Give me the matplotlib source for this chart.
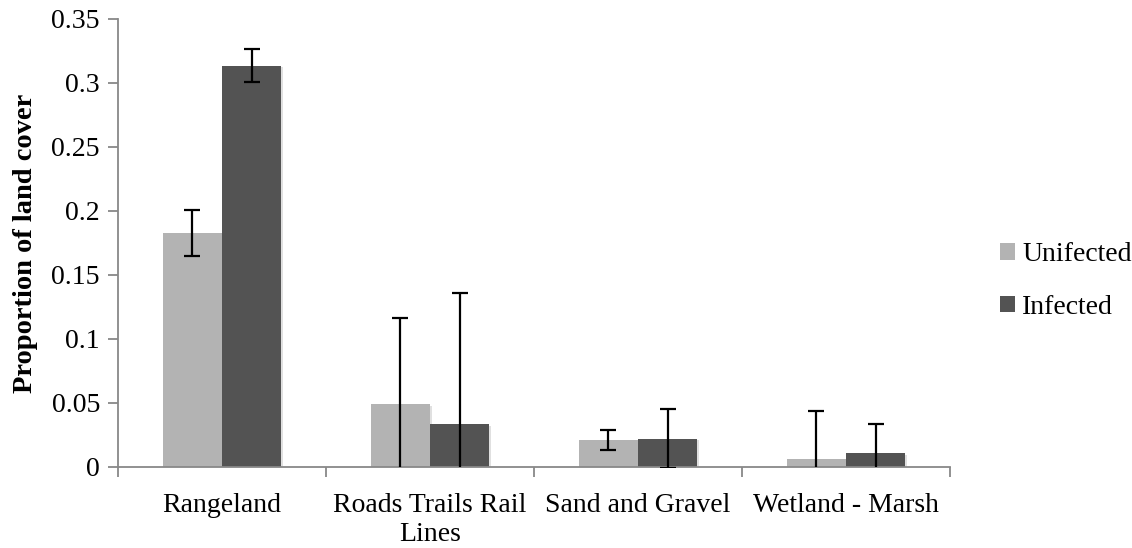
import numpy as np
import matplotlib
matplotlib.use("Agg")
import matplotlib.pyplot as plt
from matplotlib.patches import Patch
import matplotlib.patheffects as pe

categories = ["Rangeland", "Roads Trails Rail\nLines", "Sand and Gravel", "Wetland - Marsh"]
series_names = ["Unifected", "Infected"]
unifected = [0.1826, 0.0490, 0.0211, 0.0065]
unifected_err = [0.0178, 0.0672, 0.0081, 0.0370]
infected = [0.3135, 0.0334, 0.0221, 0.0107]
infected_err = [0.0129, 0.1023, 0.0230, 0.0231]
yticks = [0, 0.05, 0.1, 0.15, 0.2, 0.25, 0.3, 0.35]
ytick_labels = ["0", "0.05", "0.1", "0.15", "0.2", "0.25", "0.3", "0.35"]

plt.rcParams['font.family'] = ['Liberation Serif', 'DejaVu Serif']

fig = plt.figure(figsize=(11.32, 5.48), dpi=100)
ax = fig.add_axes([118/1132, 1 - 467/548, (950-118)/1132, (467-19)/548])

colors = ["#b3b3b3", "#535353"]
n = len(categories)
x = np.arange(n)
w = 1 / 3.5
shadow = [pe.SimplePatchShadow(offset=(1.2, -1.2), shadow_rgbFace="#999999", alpha=0.3), pe.Normal()]
for i, (vals, errs) in enumerate([(unifected, unifected_err), (infected, infected_err)]):
    pos = x + (i - 0.5) * w
    bars = ax.bar(pos, vals, width=w, color=colors[i], label=series_names[i], zorder=2)
    for b in bars:
        b.set_path_effects(shadow)
    ax.errorbar(pos, vals, yerr=errs, fmt="none", ecolor="black", elinewidth=1.6,
                capsize=6, capthick=1.6, zorder=3)

ax.set_xlim(-0.5, n - 0.5)
ax.set_ylim(0, 0.35)
ax.set_yticks(yticks)
ax.set_yticklabels(ytick_labels, fontsize=20)
ax.set_xticks(np.arange(n + 1) - 0.5)
ax.set_xticklabels([])
ax.set_xticks(x, minor=True)
ax.set_xticklabels(categories, minor=True, fontsize=20, linespacing=1.2)
ax.tick_params(axis="x", which="minor", length=0, pad=19)
ax.tick_params(axis="x", which="major", length=7, color="#888888", width=1.3)
ax.tick_params(axis="y", length=7, color="#888888", width=1.3, pad=6)
for s in ["top", "right"]:
    ax.spines[s].set_visible(False)
for s in ["left", "bottom"]:
    ax.spines[s].set_color("#888888")
    ax.spines[s].set_linewidth(1.3)

ax.set_ylabel("Proportion of land cover", fontsize=20.5, fontweight="bold", labelpad=10)

handles = [Patch(facecolor=c) for c in colors]
fig.legend(handles, series_names, loc="center left", bbox_to_anchor=(1000/1132, 1 - 281/548),
           frameon=False, fontsize=20, handlelength=0.55, handleheight=0.55,
           handletextpad=0.25, labelspacing=1.0, borderaxespad=0, borderpad=0)

fig.savefig("out.png", dpi=100)
